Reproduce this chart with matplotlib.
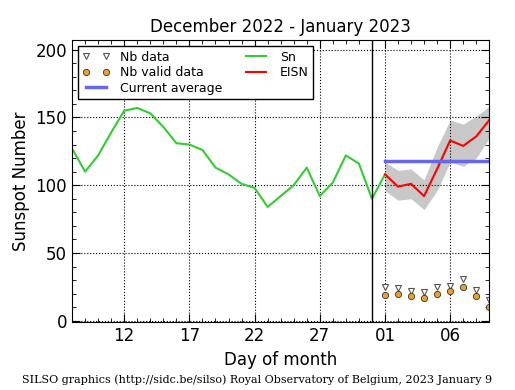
import numpy as np
import matplotlib
matplotlib.use("Agg")
import matplotlib.pyplot as plt
from matplotlib.ticker import MultipleLocator, FuncFormatter

# days counted from December 1 (32 = January 1)
sn_days = list(range(8, 33))
sn_values = [127, 110, 122, 139, 155, 157, 153, 143, 131, 130, 126, 113, 108,
             101, 98, 84, 92, 100, 113, 92, 102, 122, 116, 90, 108]

eisn_days = list(range(32, 41))
eisn_values = [108, 99, 101, 92, 112, 133, 129, 136, 148]
eisn_upper = [117, 111, 112, 104, 128, 148, 145, 151, 158]
eisn_lower = [96, 89, 90, 82, 96, 117, 114, 120, 135]

nb_data = [25, 24, 22, 21, 25, 26, 31, 23, 15]
nb_valid = [19, 20, 18, 17, 20, 22, 25, 18, 10]

current_average = 117.5
month_change = 31

fig = plt.figure(figsize=(5.15, 3.9), dpi=100)
ax = fig.add_axes([0.140, 0.174, 0.810, 0.723])

# error band and lines
ax.fill_between(eisn_days, eisn_lower, eisn_upper, color='#c8c8c8', lw=0)
ax.plot(sn_days, sn_values, color='#33cc33', lw=1.5, label='Sn')
ax.plot(eisn_days, eisn_values, color='red', lw=1.5, label='EISN')
ax.plot([eisn_days[0], eisn_days[-1]], [current_average, current_average],
        color='#6666ee', lw=2.5, label='Current average')
ax.plot(eisn_days, nb_data, 'v', ms=4, mfc='white', mec='#555555', mew=0.8,
        ls='none', label='Nb data')
ax.plot(eisn_days, nb_valid, 'o', ms=4.5, mfc='#f0a020', mec='#333333', mew=0.6,
        ls='none', label='Nb valid data')
ax.axvline(month_change, color='black', lw=1)

ax.set_xlim(8, 40)
ax.set_ylim(-1, 207)
ax.xaxis.set_major_locator(MultipleLocator(5, offset=2))
ax.xaxis.set_minor_locator(MultipleLocator(1))
ax.yaxis.set_major_locator(MultipleLocator(50))
ax.yaxis.set_minor_locator(MultipleLocator(10))
ax.xaxis.set_major_formatter(FuncFormatter(
    lambda v, p: "%02d" % (int(round(v)) - 31 if v > 31.5 else int(round(v)))))
ax.tick_params(which='both', direction='in', top=True, right=True, labelsize=12)
ax.tick_params(which='major', length=6)
ax.tick_params(which='minor', length=3)
ax.grid(True, which='major', color='black', ls=':', lw=0.8)

ax.set_title("December 2022 - January 2023", fontsize=12)
ax.set_xlabel("Day of month", fontsize=12)
ax.set_ylabel("Sunspot Number", fontsize=12)

handles, labels = ax.get_legend_handles_labels()
order = ['Nb data', 'Nb valid data', 'Current average', 'Sn', 'EISN']
hl = dict(zip(labels, handles))
leg = ax.legend([hl[k] for k in order], order, loc='upper left', ncol=2,
                fontsize=9, numpoints=2, fancybox=False, framealpha=1,
                edgecolor='black', handlelength=2.2, columnspacing=1.6,
                labelspacing=0.2, borderpad=0.35, handletextpad=0.8,
                bbox_to_anchor=(0.0, 1.0))
leg.get_frame().set_linewidth(1)

fig.text(0.5, 0.012, "SILSO graphics (http://sidc.be/silso) Royal Observatory of Belgium, 2023 January 9",
         ha='center', va='bottom', fontsize=8, family='DejaVu Serif')

fig.savefig("out.png", dpi=100)
